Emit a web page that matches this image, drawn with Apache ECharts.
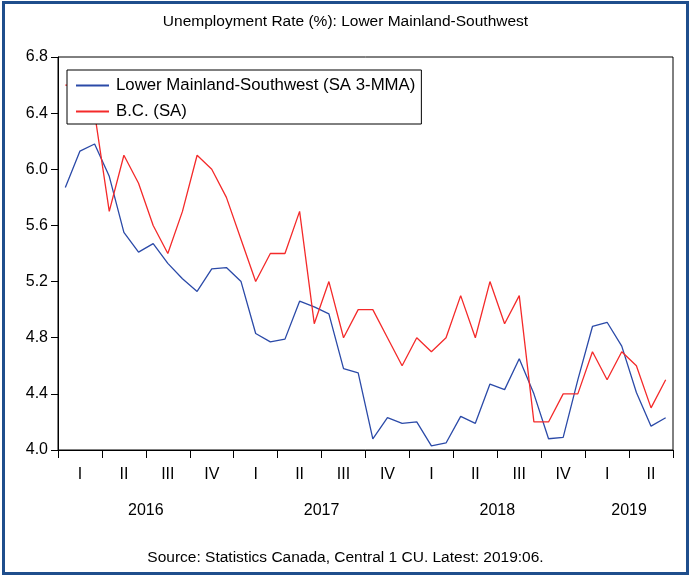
<!DOCTYPE html>
<html>
<head>
<meta charset="utf-8">
<script src="https://cdn.jsdelivr.net/npm/echarts@6/dist/echarts.min.js"></script>
<style>
  html, body { margin: 0; padding: 0; background: #fff; }
  #chart { width: 691px; height: 579px; }
</style>
</head>
<body>
<div id="chart"></div>
<script>
// monthly, Jan 2016 - Jun 2019
var months = [
  '2016:01','2016:02','2016:03','2016:04','2016:05','2016:06','2016:07','2016:08','2016:09','2016:10','2016:11','2016:12',
  '2017:01','2017:02','2017:03','2017:04','2017:05','2017:06','2017:07','2017:08','2017:09','2017:10','2017:11','2017:12',
  '2018:01','2018:02','2018:03','2018:04','2018:05','2018:06','2018:07','2018:08','2018:09','2018:10','2018:11','2018:12',
  '2019:01','2019:02','2019:03','2019:04','2019:05','2019:06'
]
var lowerMainland = [5.87, 6.13, 6.18, 5.95, 5.55, 5.41, 5.47, 5.33, 5.22, 5.13, 5.29, 5.30,
  5.20, 4.83, 4.77, 4.79, 5.06, 5.02, 4.97, 4.58, 4.55, 4.08, 4.23, 4.19,
  4.20, 4.03, 4.05, 4.24, 4.19, 4.47, 4.43, 4.65, 4.40, 4.08, 4.09, 4.50,
  4.88, 4.91, 4.74, 4.41, 4.17, 4.23]
var bc = [6.6, 6.6, 6.4, 5.7, 6.1, 5.9, 5.6, 5.4, 5.7, 6.1, 6.0, 5.8,
  5.5, 5.2, 5.4, 5.4, 5.7, 4.9, 5.2, 4.8, 5.0, 5.0, 4.8, 4.6,
  4.8, 4.7, 4.8, 5.1, 4.8, 5.2, 4.9, 5.1, 4.2, 4.2, 4.4, 4.4,
  4.7, 4.5, 4.7, 4.6, 4.3, 4.5]
var seriesNames = ['Lower Mainland-Southwest (SA 3-MMA)', 'B.C. (SA)']
var quarterLabels = ['I', 'II', 'III', 'IV']
var yearLabels = ['2016', '2017', '2018', '2019']
var yearMonthCounts = [12, 12, 12, 6]

var font = '"Liberation Sans", Arial, sans-serif'

// year label sits in the middle of the months it covers
var yearAt = {}
var acc = 0
yearMonthCounts.forEach(function (n, i) {
  yearAt[acc + n / 2] = yearLabels[i]
  acc += n
})

var chart = echarts.init(document.getElementById('chart'))
var option = {
  animation: false,
  title: [{
    text: 'Unemployment Rate (%): Lower Mainland-Southwest',
    left: 'center',
    top: 9,
    textStyle: { fontFamily: font, fontSize: 15.5, fontWeight: 'normal', color: '#000' }
  }, {
    text: 'Source: Statistics Canada, Central 1 CU. Latest: 2019:06.',
    left: 'center',
    top: 545,
    textStyle: { fontFamily: font, fontSize: 15.5, fontWeight: 'normal', color: '#000' }
  }],
  graphic: [{
    type: 'rect',
    shape: { x: 3.5, y: 2.5, width: 684, height: 571 },
    style: { fill: 'none', stroke: '#1f4e8c', lineWidth: 3 },
    silent: true
  }],
  legend: {
    orient: 'vertical',
    left: 67,
    top: 70,
    padding: [7, 6, 4, 9],
    itemGap: 9,
    itemWidth: 33,
    itemHeight: 2,
    icon: 'rect',
    borderColor: '#000',
    borderWidth: 1,
    backgroundColor: '#fff',
    textStyle: { fontFamily: font, fontSize: 16.8, color: '#000', padding: [0, 0, 0, 2] },
    data: seriesNames
  },
  grid: {
    left: 58,
    right: 18,
    top: 57,
    bottom: 129,
    show: true,
    borderColor: '#000',
    borderWidth: 1,
    backgroundColor: '#fff'
  },
  xAxis: [{
    type: 'category',
    position: 'bottom',
    data: months,
    boundaryGap: true,
    axisLine: { lineStyle: { color: '#000', width: 1 } },
    axisTick: { interval: 0, length: 4, lineStyle: { color: '#000' } },
    axisLabel: {
      interval: function (i) { return i % 3 === 1 },
      formatter: function (v, i) { return quarterLabels[Math.floor(i / 3) % 4] },
      margin: 17,
      fontFamily: font,
      fontSize: 16,
      color: '#000'
    },
    splitLine: { show: false }
  }, {
    type: 'value',
    position: 'bottom',
    min: 0,
    max: months.length,
    interval: 3,
    axisLine: { show: false },
    axisTick: { show: true, length: 8, lineStyle: { color: '#000' } },
    axisLabel: {
      margin: 53,
      showMinLabel: true,
      showMaxLabel: true,
      formatter: function (v) { return yearAt[v] || '' },
      fontFamily: font,
      fontSize: 16,
      color: '#000'
    },
    splitLine: { show: false }
  }],
  yAxis: {
    type: 'value',
    min: 4.0,
    max: 6.8,
    interval: 0.4,
    axisLine: { show: true, lineStyle: { color: '#000' } },
    axisTick: { show: true, length: 7, lineStyle: { color: '#000' } },
    axisLabel: {
      formatter: function (v) { return v.toFixed(1) },
      margin: 10,
      fontFamily: font,
      fontSize: 16,
      color: '#000'
    },
    splitLine: { show: false }
  },
  series: [{
    name: seriesNames[0],
    type: 'line',
    data: lowerMainland,
    symbol: 'none',
    itemStyle: { color: '#2b4aa8' },
    lineStyle: { color: '#2b4aa8', width: 1.3 }
  }, {
    name: seriesNames[1],
    type: 'line',
    data: bc,
    symbol: 'none',
    itemStyle: { color: '#f42a2a' },
    lineStyle: { color: '#f42a2a', width: 1.3 }
  }]
}
chart.setOption(option)
</script>
</body>
</html>
